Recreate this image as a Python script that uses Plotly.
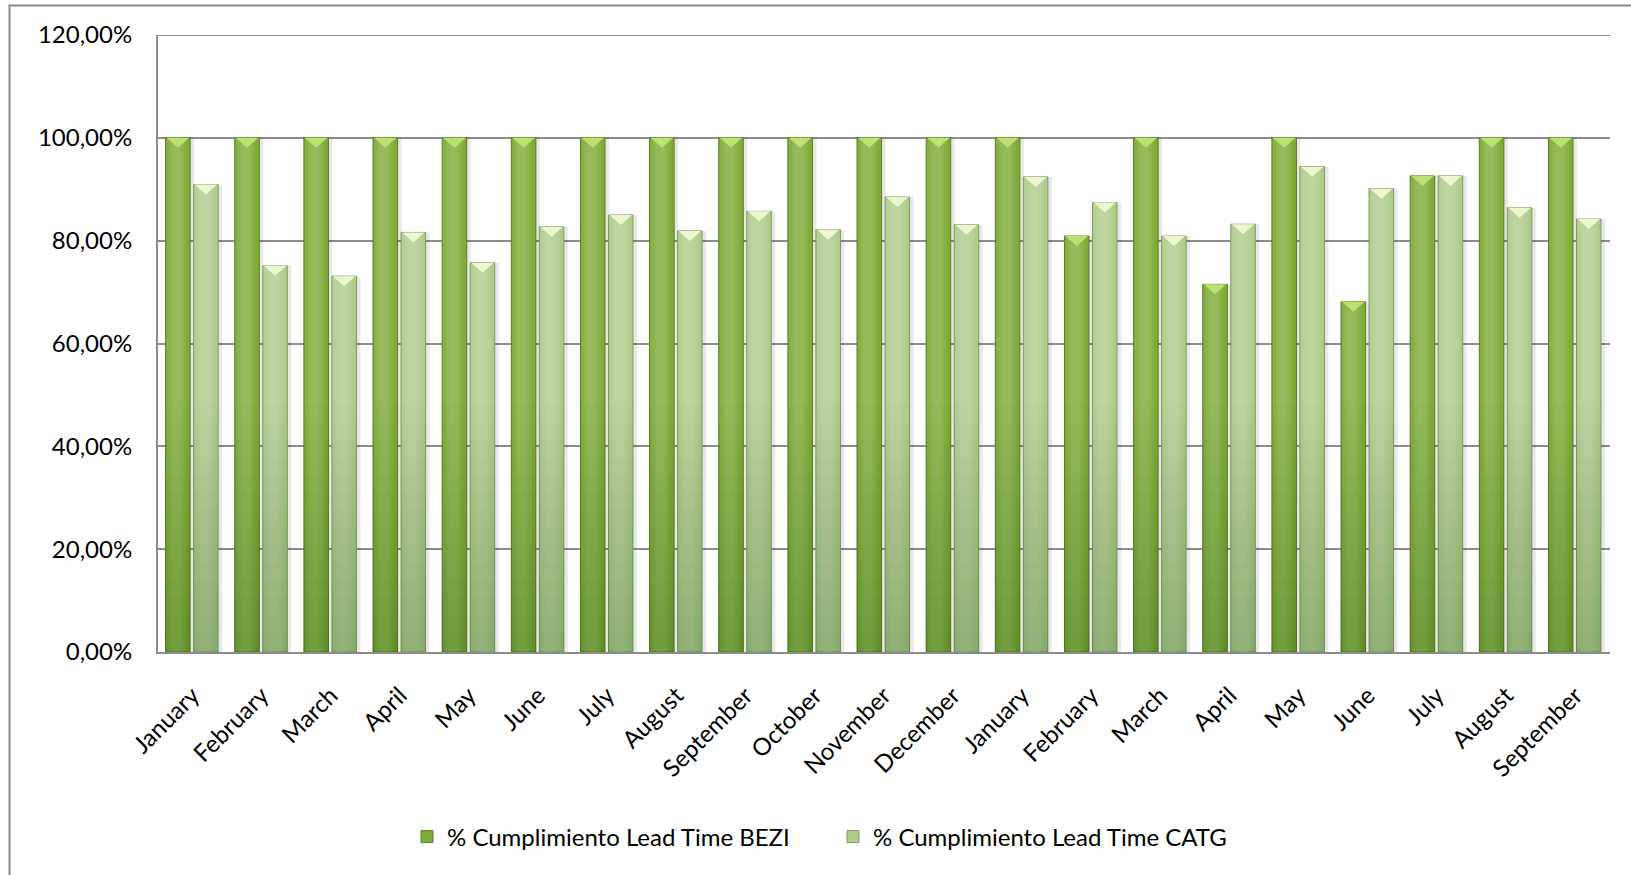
import plotly.graph_objects as go

# Monthly lead-time compliance, two sites
months = ["January", "February", "March", "April", "May", "June", "July",
          "August", "September", "October", "November", "December",
          "January", "February", "March", "April", "May", "June", "July",
          "August", "September"]

bezi = [1.00, 1.00, 1.00, 1.00, 1.00, 1.00, 1.00, 1.00, 1.00, 1.00, 1.00,
        1.00, 1.00, 0.809, 1.00, 0.715, 1.00, 0.681, 0.926, 1.00, 1.00]

catg = [0.909, 0.751, 0.731, 0.816, 0.757, 0.827, 0.850, 0.819, 0.857,
        0.821, 0.885, 0.831, 0.924, 0.874, 0.809, 0.832, 0.944, 0.901,
        0.926, 0.864, 0.842]

series_names = ["% Cumplimiento Lead Time BEZI", "% Cumplimiento Lead Time CATG"]

FONT = "Lato, Carlito, Calibri, 'Open Sans', sans-serif"
W, H = 1631, 875
M_L, M_R, M_T, M_B = 158, 21, 35, 223
PLOT_W = W - M_L - M_R
PLOT_H = H - M_T - M_B
Y_MAX = 1.2
px_x = 21 / PLOT_W          # data units per pixel (x)
px_y = Y_MAX / PLOT_H       # data units per pixel (y)

BAR_W = 0.355
styles = [
    # offset, base colour, outline, bevel colour
    dict(offset=-0.39, color="#7fab36", line="#5b7d22", bevel="#bde070"),
    dict(offset=0.015, color="#b0cc8d", line="#7f9a62", bevel="#ecf7d0"),
]

x = list(range(len(months)))
fig = go.Figure()

# soft drop shadow to the right of each bar
for vals, st in zip([bezi, catg], styles):
    fig.add_trace(go.Bar(
        x=x, y=vals, width=BAR_W, offset=st["offset"] + 4 * px_x,
        marker=dict(color="rgba(0,0,0,0.09)", line=dict(width=0)),
        showlegend=False, hoverinfo="skip"))

for vals, name, st in zip([bezi, catg], series_names, styles):
    # main bar
    fig.add_trace(go.Bar(
        x=x, y=vals, name=name, width=BAR_W, offset=st["offset"],
        marker=dict(color=st["color"], line=dict(color=st["line"], width=1)),
        hovertemplate="%{y:.2%}<extra>" + name + "</extra>"))
    # rounded highlight across the bar face
    for frac, op in [(0.80, 0.07), (0.58, 0.07), (0.36, 0.06)]:
        w = BAR_W * frac
        off = st["offset"] + (BAR_W - w) / 2 - BAR_W * 0.06
        fig.add_trace(go.Bar(
            x=x, y=vals, width=w, offset=off,
            marker=dict(color=f"rgba(255,255,255,{op})", line=dict(width=0)),
            showlegend=False, hoverinfo="skip"))
    # darker shading toward the floor, in fine steps
    for k in range(14):
        h = 0.48 - k * 0.034
        fig.add_trace(go.Bar(
            x=x, y=[min(v, h) for v in vals], width=BAR_W, offset=st["offset"],
            marker=dict(color="rgba(20,40,0,0.017)", line=dict(width=0)),
            showlegend=False, hoverinfo="skip"))
    # bevelled top: light V-shaped facet
    tx, ty = [], []
    depth = 10 * px_y
    for xi, v in zip(x, vals):
        left = xi + st["offset"] + 1 * px_x
        right = xi + st["offset"] + BAR_W - 1 * px_x
        tx += [left, right, (left + right) / 2, left, None]
        ty += [v, v, v - depth, v, None]
    fig.add_trace(go.Scatter(
        x=tx, y=ty, mode="lines", fill="toself", fillcolor=st["bevel"],
        line=dict(width=0), showlegend=False, hoverinfo="skip"))

# gridline along the top of the value range
fig.add_shape(type="line", xref="paper", yref="y", x0=0, x1=1,
              y0=Y_MAX, y1=Y_MAX, line=dict(color="#8c8c8c", width=2),
              layer="below")

# outer chart frame
fig.add_shape(type="rect", xref="paper", yref="paper",
              x0=(9.5 - M_L) / PLOT_W, x1=(W + 20 - M_L) / PLOT_W,
              y0=(M_T + PLOT_H - (H + 20)) / PLOT_H, y1=(M_T + PLOT_H - 5.5) / PLOT_H,
              line=dict(color="#8c8c8c", width=2), layer="below")

fig.update_layout(
    width=W, height=H,
    margin=dict(l=M_L, r=M_R, t=M_T, b=M_B),
    barmode="overlay",
    paper_bgcolor="white", plot_bgcolor="white",
    separators=",.",
    font=dict(family=FONT, size=24, color="black"),
    showlegend=True,
    legend=dict(orientation="h", x=(407 - M_L) / PLOT_W, xanchor="left",
                y=(M_T + PLOT_H - 837) / PLOT_H, yanchor="middle",
                entrywidth=381, entrywidthmode="pixels",
                font=dict(family=FONT, size=24, color="black"),
                bgcolor="rgba(0,0,0,0)", traceorder="normal"),
    xaxis=dict(range=[-0.5, len(months) - 0.5], tickmode="array",
               tickvals=x, ticktext=months, tickangle=-45,
               showgrid=False, zeroline=False, showline=True,
               linecolor="#8c8c8c", linewidth=2, ticks="",
               ticklabelstandoff=18),
    yaxis=dict(range=[0, Y_MAX], dtick=0.2, tickformat=".2%",
               showgrid=True, gridcolor="#8c8c8c", gridwidth=2,
               zeroline=False, showline=True, linecolor="#8c8c8c",
               linewidth=2, ticks="", ticklabelstandoff=19),
)

fig.write_html("out.html")
